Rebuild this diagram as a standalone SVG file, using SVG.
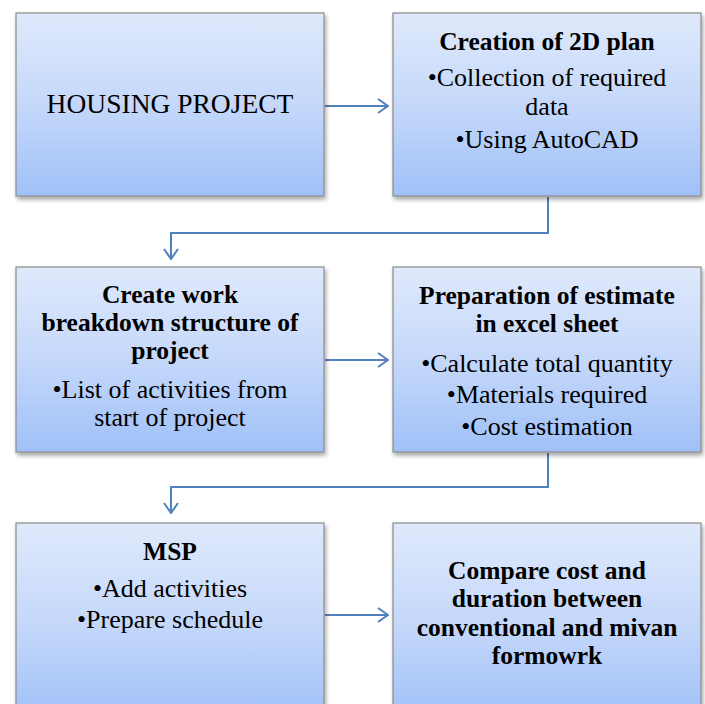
<svg xmlns="http://www.w3.org/2000/svg" width="705" height="704" viewBox="0 0 705 704">
  <defs>
    <linearGradient id="boxFill" x1="0" y1="0" x2="0" y2="1">
      <stop offset="0" stop-color="#dfe9fb"/>
      <stop offset="0.5" stop-color="#c5d8fa"/>
      <stop offset="1" stop-color="#9fc0f8"/>
    </linearGradient>
    <filter id="shadow" x="-10%" y="-10%" width="120%" height="130%">
      <feDropShadow dx="1.5" dy="3" stdDeviation="2" flood-color="#000" flood-opacity="0.35"/>
    </filter>
    <marker id="arrow" viewBox="0 0 12 16" refX="11" refY="8" markerWidth="12" markerHeight="16" markerUnits="userSpaceOnUse" orient="auto">
      <path d="M1,1 L11,8 L1,15" fill="none" stroke="#4f81bd" stroke-width="2"/>
    </marker>
  </defs>
  <style>
    .box { fill: url(#boxFill); stroke: #8a8a8a; stroke-width: 1.2; filter: url(#shadow); }
    .conn { fill: none; stroke: #4f81bd; stroke-width: 2; marker-end: url(#arrow); }
    text { font-family: "Liberation Serif", "Times New Roman", serif; fill: #000; text-anchor: middle; }
    .h { font-size: 25.5px; font-weight: bold; }
    .b { font-size: 26px; }
  </style>

  <!-- connectors -->
  <g id="connectors">
    <path class="conn" d="M325,106 H388"/>
    <path class="conn" d="M548,197 V233 H171 V259"/>
    <path class="conn" d="M325,360 H388"/>
    <path class="conn" d="M548,453 V487 H171 V513"/>
    <path class="conn" d="M325,615 H388"/>
  </g>

  <g id="housing-project">
    <rect class="box" x="16" y="13" width="308" height="183"/>
    <text class="b" x="170" y="113" style="font-size:27.5px">HOUSING PROJECT</text>
  </g>

  <g id="plan-2d">
    <rect class="box" x="393" y="13" width="308" height="183"/>
    <text class="h" x="547" y="50">Creation of 2D plan</text>
    <text class="b" x="547" y="86">•Collection of required</text>
    <text class="b" x="547" y="115">data</text>
    <text class="b" x="547" y="148">•Using AutoCAD</text>
  </g>

  <g id="wbs">
    <rect class="box" x="16" y="267" width="308" height="185"/>
    <text class="h" x="170" y="303">Create work</text>
    <text class="h" x="170" y="331">breakdown structure of</text>
    <text class="h" x="170" y="359">project</text>
    <text class="b" x="170" y="398">•List of activities from</text>
    <text class="b" x="170" y="426">start of project</text>
  </g>

  <g id="estimate">
    <rect class="box" x="393" y="267" width="308" height="185"/>
    <text class="h" x="547" y="304">Preparation of estimate</text>
    <text class="h" x="547" y="332">in excel sheet</text>
    <text class="b" x="547" y="372">•Calculate total quantity</text>
    <text class="b" x="547" y="403">•Materials required</text>
    <text class="b" x="547" y="435">•Cost estimation</text>
  </g>

  <g id="msp">
    <rect class="box" x="16" y="523" width="308" height="200"/>
    <text class="h" x="170" y="560">MSP</text>
    <text class="b" x="170" y="597">•Add activities</text>
    <text class="b" x="170" y="628">•Prepare schedule</text>
  </g>

  <g id="compare">
    <rect class="box" x="393" y="523" width="308" height="200"/>
    <text class="h" x="547" y="579">Compare cost and</text>
    <text class="h" x="547" y="607">duration between</text>
    <text class="h" x="547" y="636">conventional and mivan</text>
    <text class="h" x="547" y="664">formowrk</text>
  </g>
</svg>
